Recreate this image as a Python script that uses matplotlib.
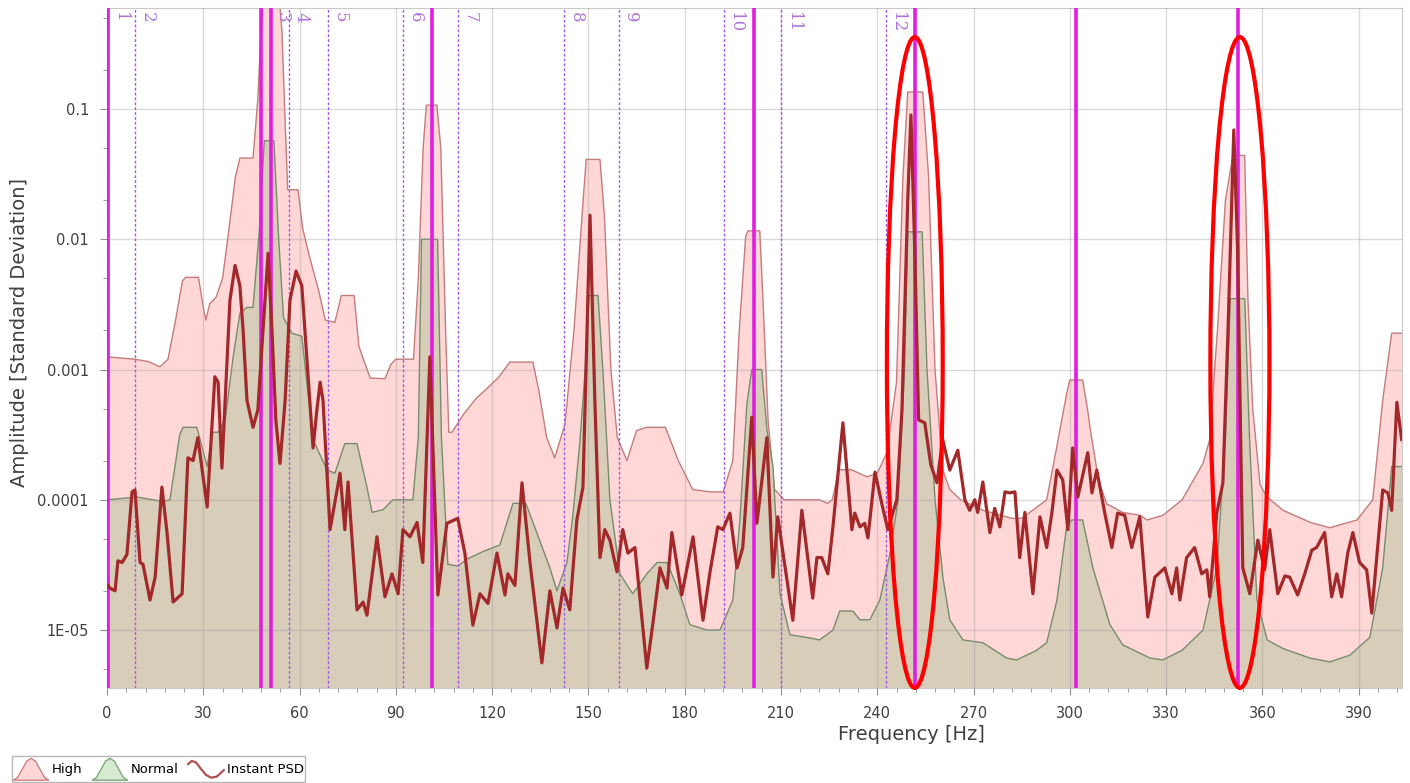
import matplotlib
matplotlib.use('Agg')
import matplotlib.pyplot as plt
import matplotlib.transforms as mtransforms
from matplotlib.patches import Ellipse, Polygon, Patch
from matplotlib.lines import Line2D
from matplotlib.legend_handler import HandlerBase
from matplotlib.ticker import FixedLocator, FixedFormatter, MultipleLocator, NullFormatter

# --- data --------------------------------------------------------------
high_hz = [0, 8.7, 13, 16.5, 19, 21.5, 23.5, 24.5, 28.5, 30,
           30.8, 32, 34, 36, 38, 40, 41.4, 45.5, 47, 48,
           49, 53.5, 54.5, 55.5, 56.3, 59.5, 61, 63, 66, 68,
           71, 73, 77, 78.5, 82, 86.6, 88.5, 90, 95.5, 97,
           98.5, 99.5, 102.8, 104, 105.5, 106.5, 107.5, 111, 115, 118,
           122, 125.5, 132.7, 134.5, 137, 139.5, 142.7, 145.5, 148, 149.3,
           153.6, 155, 157, 159, 162, 165, 168, 174, 178, 182.5,
           188, 192, 195, 197, 199, 199.7, 203.4, 204.5, 206, 208,
           211, 222, 224.5, 226, 228, 232, 236.8, 240, 243, 246,
           248, 249.5, 254.2, 256, 258, 260.4, 262.6, 266, 270, 273,
           282, 285, 292.8, 296, 299, 300, 304, 305.5, 306.6, 309,
           311.5, 316.5, 322, 324, 329, 335, 341.5, 343.6, 346, 348.5,
           350.8, 354.5, 355.5, 357, 359.3, 361.5, 366.5, 375, 381, 389.5,
           394.4, 397.5, 400.3, 403.5]
high_amp = [1.25e-3, 1.2e-3, 1.15e-3, 1.05e-3, 1.2e-3, 2.5e-3, 4.8e-3, 5.1e-3, 5.1e-3, 3.0e-3,
            2.4e-3, 3.2e-3, 3.6e-3, 5.0e-3, 1.2e-2, 3.0e-2, 4.2e-2, 4.2e-2, 0.12, 0.4,
            0.8, 0.8, 0.4, 0.08, 0.024, 0.024, 0.012, 7.5e-3, 4.0e-3, 2.4e-3,
            2.3e-3, 3.7e-3, 3.7e-3, 1.5e-3, 8.6e-4, 8.5e-4, 1.1e-3, 1.2e-3, 1.2e-3, 5e-3,
            0.05, 0.107, 0.107, 0.05, 2e-3, 3.3e-4, 3.3e-4, 4.5e-4, 6e-4, 7e-4,
            8.7e-4, 1.14e-3, 1.14e-3, 7e-4, 3e-4, 2.1e-4, 3.8e-4, 2e-3, 1.5e-2, 4.1e-2,
            4.1e-2, 1.5e-2, 1e-3, 3e-4, 2e-4, 3.4e-4, 3.6e-4, 3.6e-4, 2e-4, 1.2e-4,
            1.15e-4, 1.15e-4, 2e-4, 2e-3, 1.05e-2, 1.16e-2, 1.16e-2, 3e-3, 4e-4, 1.2e-4,
            1e-4, 1e-4, 9.4e-5, 1e-4, 1.7e-4, 1.7e-4, 1.5e-4, 1.6e-4, 2.3e-4, 8e-4,
            0.03, 0.135, 0.135, 0.03, 1e-3, 1.7e-4, 1.2e-4, 1e-4, 9e-5, 8.3e-5,
            7.2e-5, 7.2e-5, 1e-4, 2.6e-4, 6.5e-4, 8.3e-4, 8.3e-4, 5e-4, 3.2e-4, 1.4e-4,
            9.3e-5, 8e-5, 7.6e-5, 7e-5, 7.6e-5, 1e-4, 1.9e-4, 2.9e-4, 2e-3, 0.02,
            0.044, 0.044, 0.0035, 5e-4, 1.3e-4, 1.05e-4, 8.3e-5, 6.7e-5, 6.1e-5, 7e-5,
            1e-4, 5.8e-4, 1.9e-3, 1.9e-3]

normal_hz = [0, 9.3, 17.4, 19.6, 22.7, 23.7, 28, 31.2, 33, 34.6,
             36.8, 39.3, 41.4, 43.6, 45.5, 47.5, 49, 52, 53.5, 55,
             57.6, 60.7, 64.2, 68.5, 71, 74.1, 77.9, 81, 82.6, 86,
             89.1, 95.3, 97, 98, 103, 104.2, 106.2, 109.3, 112.1, 117.1,
             122.4, 126.5, 130.5, 138, 140.2, 143.3, 145, 147.3, 149, 150.2,
             153, 154.5, 156.7, 159.8, 163.8, 168.2, 171.4, 174.5, 178.5, 181.6,
             187, 191, 195, 197.2, 199.4, 200.9, 204, 205.6, 207.5, 209.7,
             212.8, 219, 222, 226.2, 228.3, 232.4, 234.6, 237.7, 240.8, 244,
             246.5, 248.5, 249.5, 254, 255.5, 258, 260.5, 262.6, 266.7, 272.9,
             280.3, 283.5, 289.7, 292.8, 296, 299, 300.6, 304, 307.2, 312.5,
             316.5, 325, 329, 335, 341.5, 345.8, 348.5, 350, 354.5, 356,
             358.3, 361.5, 366.5, 374.8, 381, 387.2, 393.5, 397.5, 400.3, 403.5]
normal_amp = [1e-4, 1.05e-4, 9.7e-5, 1e-4, 3.2e-4, 3.6e-4, 3.6e-4, 1.8e-4, 3.3e-4, 3.3e-4,
              4.1e-4, 1.25e-3, 2.7e-3, 3e-3, 3e-3, 1.2e-2, 5.7e-2, 5.7e-2, 1e-2, 2.5e-3,
              1.9e-3, 1.8e-3, 2.9e-4, 1.7e-4, 1.6e-4, 2.7e-4, 2.7e-4, 1.25e-4, 8e-5, 8.4e-5,
              1e-4, 1e-4, 3e-4, 1e-2, 1e-2, 3e-4, 3.2e-5, 3.1e-5, 3.5e-5, 4e-5,
              4.5e-5, 9.4e-5, 9.4e-5, 3e-5, 2e-5, 3.3e-5, 7e-5, 2.7e-4, 1e-3, 3.7e-3,
              3.7e-3, 1e-3, 1e-4, 2.7e-5, 1.9e-5, 2.7e-5, 3.3e-5, 3.3e-5, 1.9e-5, 1.1e-5,
              1e-5, 1e-5, 1.7e-5, 7e-5, 5.5e-4, 1e-3, 1e-3, 3.5e-4, 1.8e-4, 1.9e-5,
              9.2e-6, 8.7e-6, 8.4e-6, 1e-5, 1.4e-5, 1.4e-5, 1.2e-5, 1.2e-5, 1.7e-5, 3.9e-5,
              1e-4, 1e-3, 1.14e-2, 1.14e-2, 1e-3, 1e-4, 2.5e-5, 1.2e-5, 8.4e-6, 8e-6,
              6.1e-6, 5.9e-6, 7e-6, 8e-6, 1.7e-5, 6.2e-5, 7e-5, 7e-5, 3e-5, 1.1e-5,
              7.7e-6, 6.1e-6, 5.9e-6, 7e-6, 1e-5, 3e-5, 3e-4, 3.5e-3, 3.5e-3, 3e-4,
              1.7e-5, 8.4e-6, 7.2e-6, 6.1e-6, 5.7e-6, 6.4e-6, 8.8e-6, 3e-5, 1.8e-4, 1.8e-4]

psd_hz = [0.3, 0.9, 2.5, 3.4, 4.7, 6.2, 7.8, 8.7, 10.3, 11.2,
          13.4, 15.0, 17.1, 18.7, 20.6, 23.4, 25.2, 26.8, 28.3, 31.2,
          33.6, 34.6, 35.8, 38.3, 39.9, 41.4, 42.4, 43.6, 45.5, 47.0,
          48.6, 50.2, 51.4, 52.6, 53.9, 55.5, 57.0, 58.9, 60.7, 62.3,
          64.2, 65.4, 66.4, 67.3, 69.5, 72.6, 74.1, 75.1, 77.9, 79.8,
          81.0, 84.1, 86.6, 88.8, 90.7, 92.2, 94.4, 96.6, 98.4, 100.6,
          103.1, 105.9, 109.3, 111.5, 114.0, 116.2, 118.7, 121.5, 124.0, 124.9,
          127.1, 129.3, 131.8, 135.5, 138.0, 140.2, 142.1, 144.2, 146.4, 148.3,
          150.5, 152.0, 153.6, 155.1, 156.7, 158.9, 160.7, 162.3, 164.5, 168.2,
          170.1, 172.3, 174.5, 176.0, 179.1, 182.6, 185.7, 187.9, 190.3, 191.9,
          194.1, 196.3, 198.1, 200.9, 202.5, 205.6, 207.5, 209.0, 213.7, 216.5,
          219.9, 221.2, 222.7, 224.6, 226.2, 229.3, 232.1, 233.0, 234.6, 236.1,
          237.1, 239.3, 241.4, 243.3, 246.1, 247.7, 249.5, 250.5, 251.7, 252.9,
          254.8, 256.7, 258.6, 260.4, 262.6, 265.1, 267.3, 268.8, 270.4, 271.3,
          272.9, 275.1, 276.6, 278.2, 279.8, 281.3, 282.9, 284.4, 286.0, 288.5,
          290.7, 292.8, 294.4, 296.0, 297.8, 299.4, 300.9, 302.5, 305.6, 306.9,
          308.4, 310.9, 313.1, 314.9, 317.1, 319.3, 321.8, 324.3, 326.5, 329.6,
          331.8, 333.3, 334.3, 336.4, 338.9, 341.1, 342.7, 343.6, 345.8, 347.7,
          349.3, 351.1, 352.3, 353.3, 353.9, 356.1, 358.6, 360.7, 362.3, 364.8,
          367.0, 368.5, 371.0, 373.2, 375.4, 376.9, 379.4, 381.6, 383.2, 384.7,
          386.6, 388.2, 390.3, 392.5, 394.1, 397.5, 399.1, 400.3, 401.9, 403.4]
psd_amp = [2.2e-5, 2.1e-5, 2.0e-5, 3.4e-5, 3.3e-5, 3.8e-5, 1.15e-4, 1.19e-4, 3.3e-5, 3.2e-5,
           1.7e-5, 2.55e-5, 1.25e-4, 5.6e-5, 1.64e-5, 1.9e-5, 2.1e-4, 2.0e-4, 3.0e-4, 8.8e-5,
           8.8e-4, 8.0e-4, 1.75e-4, 3.4e-3, 6.3e-3, 4.4e-3, 2.0e-3, 5.8e-4, 3.6e-4, 4.9e-4,
           2.0e-3, 7.8e-3, 2.0e-3, 4.1e-4, 1.9e-4, 5.8e-4, 3.4e-3, 5.7e-3, 4.4e-3, 1.2e-3,
           2.5e-4, 4.9e-4, 8.0e-4, 5.8e-4, 5.9e-5, 1.6e-4, 5.9e-5, 1.37e-4, 1.43e-5, 1.64e-5,
           1.3e-5, 5.2e-5, 1.8e-5, 2.7e-5, 1.9e-5, 5.9e-5, 5.2e-5, 6.7e-5, 3.3e-5, 1.25e-3,
           1.86e-5, 6.6e-5, 7.2e-5, 3.9e-5, 1.09e-5, 1.9e-5, 1.6e-5, 3.9e-5, 1.86e-5, 2.7e-5,
           2.2e-5, 1.35e-4, 3.3e-5, 5.6e-6, 2.0e-5, 1.04e-5, 2.1e-5, 1.43e-5, 7.0e-5, 1.25e-4,
           1.53e-2, 5.8e-4, 3.6e-5, 5.9e-5, 4.9e-5, 2.8e-5, 5.9e-5, 3.9e-5, 4.3e-5, 5.1e-6,
           1.13e-5, 3.0e-5, 2.1e-5, 5.6e-5, 1.86e-5, 5.2e-5, 1.19e-5, 2.8e-5, 6.2e-5, 5.9e-5,
           7.9e-5, 3.0e-5, 4.3e-5, 4.3e-4, 6.6e-5, 3.0e-4, 2.55e-5, 7.4e-5, 1.19e-5, 8.3e-5,
           1.76e-5, 3.6e-5, 3.6e-5, 2.7e-5, 6.2e-5, 3.9e-4, 5.9e-5, 7.9e-5, 6.2e-5, 6.6e-5,
           5.1e-5, 1.63e-4, 9.4e-5, 5.9e-5, 1e-4, 4.9e-4, 2e-2, 0.09, 8e-3, 4.1e-4,
           3.9e-4, 1.85e-4, 1.35e-4, 2.9e-4, 1.69e-4, 2.4e-4, 1e-4, 8.3e-5, 1e-4, 8e-5,
           1.37e-4, 5.6e-5, 8.6e-5, 6.2e-5, 1.15e-4, 1.13e-4, 1.15e-4, 3.6e-5, 8e-5, 1.9e-5,
           7.4e-5, 4.3e-5, 7.9e-5, 1.69e-4, 1.42e-4, 5.9e-5, 2.5e-4, 1.05e-4, 2.3e-4, 1.13e-4,
           1.69e-4, 7.9e-5, 4.3e-5, 7.9e-5, 7.6e-5, 4.3e-5, 7.4e-5, 1.26e-5, 2.55e-5, 3.0e-5,
           1.9e-5, 3.0e-5, 1.7e-5, 3.6e-5, 4.3e-5, 2.7e-5, 2.9e-5, 1.8e-5, 7.9e-5, 1.35e-4,
           2.0e-3, 0.069, 8e-3, 2.4e-4, 3.0e-5, 1.9e-5, 4.9e-5, 2.9e-5, 5.9e-5, 1.9e-5,
           2.6e-5, 2.55e-5, 1.86e-5, 2.7e-5, 4.1e-5, 4.3e-5, 5.6e-5, 1.8e-5, 2.7e-5, 1.8e-5,
           3.9e-5, 5.6e-5, 3.3e-5, 2.9e-5, 1.35e-5, 1.19e-4, 1.13e-4, 8.3e-5, 5.6e-4, 2.9e-4]

# harmonic markers (solid) and numbered bands (dotted)
solid_hz = [0.4, 48.0, 51.1, 101.2, 201.6, 251.7, 301.9, 352.3]
band_hz = [0.4, 8.7, 50.8, 56.7, 68.8, 92.2, 109.3, 142.4, 159.5, 192.2, 210.0, 242.7]
band_labels = ['1', '2', '3', '4', '5', '6', '7', '8', '9', '10', '11', '12']

# highlighted peaks: centre and width in Hz
circle_hz = [251.7, 353.0]
circle_width = [17.4, 18.4]

x_ticks = [0, 30, 60, 90, 120, 150, 180, 210, 240, 270, 300, 330, 360, 390]
y_ticks = [1e-5, 1e-4, 1e-3, 1e-2, 1e-1]
y_ticklabels = ['1E-05', '0.0001', '0.001', '0.01', '0.1']

HIGH_FACE, HIGH_EDGE = '#ffd7d7', '#c47c7c'
NORM_FACE, NORM_EDGE = '#d8cdb9', '#788c6e'
PSD_COLOR = '#a3282a'
FLOOR = 1e-7


class IconHandler(HandlerBase):
    # little bell / wave icons like the original legend
    bell = [(0, 0), (0.12, 0.12), (0.25, 0.5), (0.38, 0.88), (0.5, 1.0),
            (0.62, 0.88), (0.75, 0.5), (0.88, 0.12), (1, 0)]
    wave = [(0, 0.8), (0.1, 0.98), (0.22, 0.9), (0.35, 0.55), (0.5, 0.18),
            (0.65, 0.02), (0.8, 0.08), (0.92, 0.3), (1, 0.45)]

    def create_artists(self, legend, orig_handle, xdescent, ydescent,
                       width, height, fontsize, trans):
        y0 = -ydescent + 0.02 * height
        h = 0.95 * height
        if isinstance(orig_handle, Line2D):
            xs = [p[0] * width - xdescent for p in self.wave]
            ys = [y0 + 0.1 * h + p[1] * 0.8 * h for p in self.wave]
            art = Line2D(xs, ys, color=orig_handle.get_color(), lw=1.6)
        else:
            pts = [(p[0] * width - xdescent, y0 + p[1] * h) for p in self.bell]
            art = Polygon(pts, closed=True, fc=orig_handle.get_facecolor(),
                          ec=orig_handle.get_edgecolor(), lw=1.0)
        art.set_transform(trans)
        return [art]


fig = plt.figure(figsize=(14.1, 7.83), dpi=100)
ax = fig.add_axes([0.0759, 0.1213, 0.9184, 0.8685])
ax.set_yscale('log')

ax.fill_between(high_hz, FLOOR, high_amp, facecolor=HIGH_FACE, edgecolor='none', zorder=1)
ax.plot(high_hz, high_amp, color=HIGH_EDGE, lw=1.0, zorder=1.2)
ax.fill_between(normal_hz, FLOOR, normal_amp, facecolor=NORM_FACE, edgecolor='none', zorder=1.4)
ax.plot(normal_hz, normal_amp, color=NORM_EDGE, lw=1.0, zorder=1.5)

for f in band_hz:
    ax.axvline(f, color='#a258e0', lw=1.0, ls=(0, (2, 1.5)), zorder=2.6)
for f in solid_hz:
    ax.axvline(f, color='#e01ee0', lw=2.6, zorder=2.7)

ax.plot(psd_hz, psd_amp, color=PSD_COLOR, lw=2.3, zorder=3, solid_joinstyle='round')

top = mtransforms.blended_transform_factory(ax.transData, ax.transAxes)
for f, lab in zip(band_hz, band_labels):
    ax.annotate(lab, xy=(f, 1.0), xycoords=top, xytext=(2.5, -3), textcoords='offset points',
                rotation=-90, ha='left', va='top', fontsize=12, color='#b072d8',
                family='DejaVu Serif', zorder=5)

for f, w in zip(circle_hz, circle_width):
    ax.add_patch(Ellipse((f, 0.4787), w, 0.957, transform=top, fill=False,
                         ec='#ff0000', lw=3, zorder=6, clip_on=False))

ax.set_xlim(0, 403.5)
ax.set_ylim(3.59e-6, 0.596)
ax.xaxis.set_major_locator(FixedLocator(x_ticks))
ax.xaxis.set_minor_locator(MultipleLocator(6))
ax.yaxis.set_major_locator(FixedLocator(y_ticks))
ax.yaxis.set_major_formatter(FixedFormatter(y_ticklabels))
ax.yaxis.set_minor_locator(FixedLocator([2e-6, 5e-6, 2e-5, 5e-5, 2e-4, 5e-4, 2e-3, 5e-3, 2e-2, 5e-2, 2e-1, 5e-1]))
ax.yaxis.set_minor_formatter(NullFormatter())

ax.set_axisbelow(False)
ax.grid(True, which='major', color='#9a9a9a', alpha=0.35, lw=1.0)
ax.tick_params(which='both', direction='out', color='#909090', labelcolor='#404040', labelsize=10.5)
ax.tick_params(which='major', length=5, pad=8)
ax.tick_params(which='minor', length=3)
for s in ax.spines.values():
    s.set_color('#c8c8c8')

ax.set_xlabel('Frequency [Hz]', fontsize=14, color='#404040')
ax.set_ylabel('Amplitude [Standard Deviation]', fontsize=14, color='#404040')
ax.xaxis.set_label_coords(0.621, -0.055)
ax.yaxis.set_label_coords(-0.06, 0.523)

handles = [Patch(facecolor=HIGH_FACE, edgecolor='#d08080'),
           Patch(facecolor='#d6ead2', edgecolor='#80a878'),
           Line2D([], [], color='#b05050')]
leg = fig.legend(handles, ['High', 'Normal', 'Instant PSD'], loc='lower left',
                 bbox_to_anchor=(12 / 1410, 1 / 783), ncol=3, fontsize=9.5,
                 handler_map={Patch: IconHandler(), Line2D: IconHandler()},
                 handlelength=2.7, handleheight=2.3, handletextpad=0.25,
                 columnspacing=0.7, borderpad=0.1, borderaxespad=0,
                 fancybox=False, edgecolor='#b8b8b8', framealpha=1)
leg.get_frame().set_linewidth(1.0)

fig.savefig('out.png', dpi=100)
